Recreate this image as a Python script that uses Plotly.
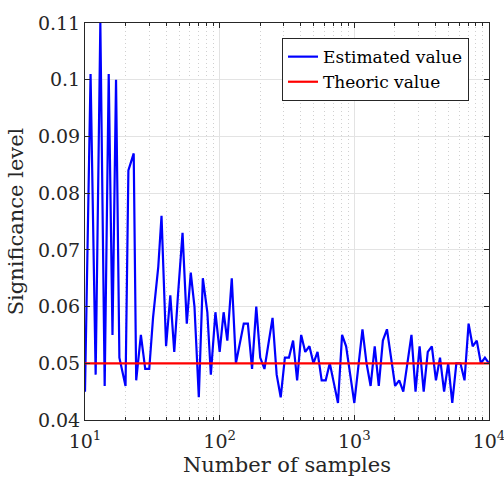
import plotly.graph_objects as go

# Number of samples (x) and estimated significance level (y)
n_samples = [10, 10, 11, 12, 13, 14, 15, 16, 17, 18,
             20, 21, 23, 24, 26, 28, 30, 32, 35, 37,
             40, 43, 46, 49, 53, 57, 61, 65, 70, 75,
             81, 86, 93, 100, 107, 114, 123, 132, 141, 151,
             162, 174, 187, 200, 215, 231, 247, 265, 284, 305,
             327, 351, 376, 403, 432, 464, 497, 533, 572, 613,
             657, 705, 756, 811, 869, 932, 1000, 1072, 1149, 1232,
             1321, 1417, 1519, 1629, 1747, 1873, 2009, 2154, 2310, 2477,
             2656, 2848, 3053, 3274, 3511, 3764, 4037, 4328, 4641, 4977,
             5336, 5722, 6135, 6579, 7054, 7564, 8111, 8697, 9326, 10000]

estimated = [0.045, 0.045, 0.101, 0.048, 0.110, 0.046, 0.101, 0.055, 0.100, 0.051,
             0.046, 0.084, 0.087, 0.047, 0.055, 0.049, 0.049, 0.058, 0.067, 0.076,
             0.053, 0.062, 0.052, 0.062, 0.073, 0.057, 0.066, 0.060, 0.044, 0.065,
             0.059, 0.048, 0.059, 0.052, 0.059, 0.054, 0.065, 0.050, 0.0535, 0.057,
             0.057, 0.049, 0.060, 0.051, 0.049, 0.0535, 0.058, 0.048, 0.044, 0.051,
             0.051, 0.054, 0.047, 0.055, 0.052, 0.053, 0.050, 0.052, 0.047, 0.047,
             0.050, 0.0465, 0.043, 0.055, 0.053, 0.048, 0.043, 0.0495, 0.056, 0.050,
             0.046, 0.053, 0.046, 0.054, 0.056, 0.051, 0.046, 0.047, 0.045, 0.050,
             0.055, 0.045, 0.053, 0.045, 0.052, 0.053, 0.047, 0.051, 0.045, 0.050,
             0.043, 0.050, 0.050, 0.047, 0.057, 0.053, 0.054, 0.050, 0.051, 0.050]

theoric_x = [10, 10000]
theoric_y = [0.05, 0.05]

x_tickvals = [10, 100, 1000, 10000]
x_ticktext = ["10<sup>1</sup>", "10<sup>2</sup>", "10<sup>3</sup>", "10<sup>4</sup>"]
y_tickvals = [0.04, 0.05, 0.06, 0.07, 0.08, 0.09, 0.10, 0.11]
y_ticktext = ["0.04", "0.05", "0.06", "0.07", "0.08", "0.09", "0.1", "0.11"]
minor_vals = [20, 30, 40, 50, 60, 70, 80, 90,
              200, 300, 400, 500, 600, 700, 800, 900,
              2000, 3000, 4000, 5000, 6000, 7000, 8000, 9000]

FONT = "DejaVu Serif"
AX = "#262626"

fig = go.Figure()
fig.add_trace(go.Scatter(x=n_samples, y=estimated, mode="lines",
                         line=dict(color="#0000ff", width=2.2),
                         name="Estimated value"))
fig.add_trace(go.Scatter(x=theoric_x, y=theoric_y, mode="lines",
                         line=dict(color="#ff0000", width=2.2),
                         name="Theoric value"))

fig.update_layout(
    width=504, height=484,
    margin=dict(l=85, r=15, t=16, b=64),
    paper_bgcolor="white", plot_bgcolor="white",
    font=dict(family=FONT, color=AX),
    showlegend=True,
    legend=dict(x=0.9505, y=0.962, xanchor="right", yanchor="top",
                bgcolor="white", bordercolor=AX, borderwidth=1,
                font=dict(family=FONT, size=17, color="black"),
                tracegroupgap=0, itemwidth=30),
)

fig.update_xaxes(
    type="log", range=[1, 4],
    tickmode="array", tickvals=x_tickvals, ticktext=x_ticktext,
    tickfont=dict(family=FONT, size=19, color=AX),
    ticks="inside", ticklen=5, tickcolor=AX, tickwidth=1,
    ticklabeloverflow="allow", ticklabelstandoff=4,
    automargin="bottom",
    showline=True, linecolor=AX, linewidth=1, mirror="allticks",
    showgrid=True, gridcolor="#e3e3e3", gridwidth=1,
    zeroline=False,
    minor=dict(tickmode="array", tickvals=minor_vals, ticks="inside", ticklen=3,
               tickcolor=AX, showgrid=True, gridcolor="#d0d0d0",
               griddash="1px,3px", gridwidth=1),
    title=dict(text="Number of samples", font=dict(family=FONT, size=21, color=AX), standoff=6),
)
fig.update_yaxes(
    range=[0.04, 0.11],
    tickmode="array", tickvals=y_tickvals, ticktext=y_ticktext,
    tickfont=dict(family=FONT, size=19, color=AX),
    ticks="inside", ticklen=5, tickcolor=AX, tickwidth=1,
    showline=True, linecolor=AX, linewidth=1, mirror="allticks",
    showgrid=True, gridcolor="#e3e3e3", gridwidth=1,
    zeroline=False,
    title=dict(text="Significance level", font=dict(family=FONT, size=21, color=AX), standoff=8),
)

fig.write_html("out.html")
